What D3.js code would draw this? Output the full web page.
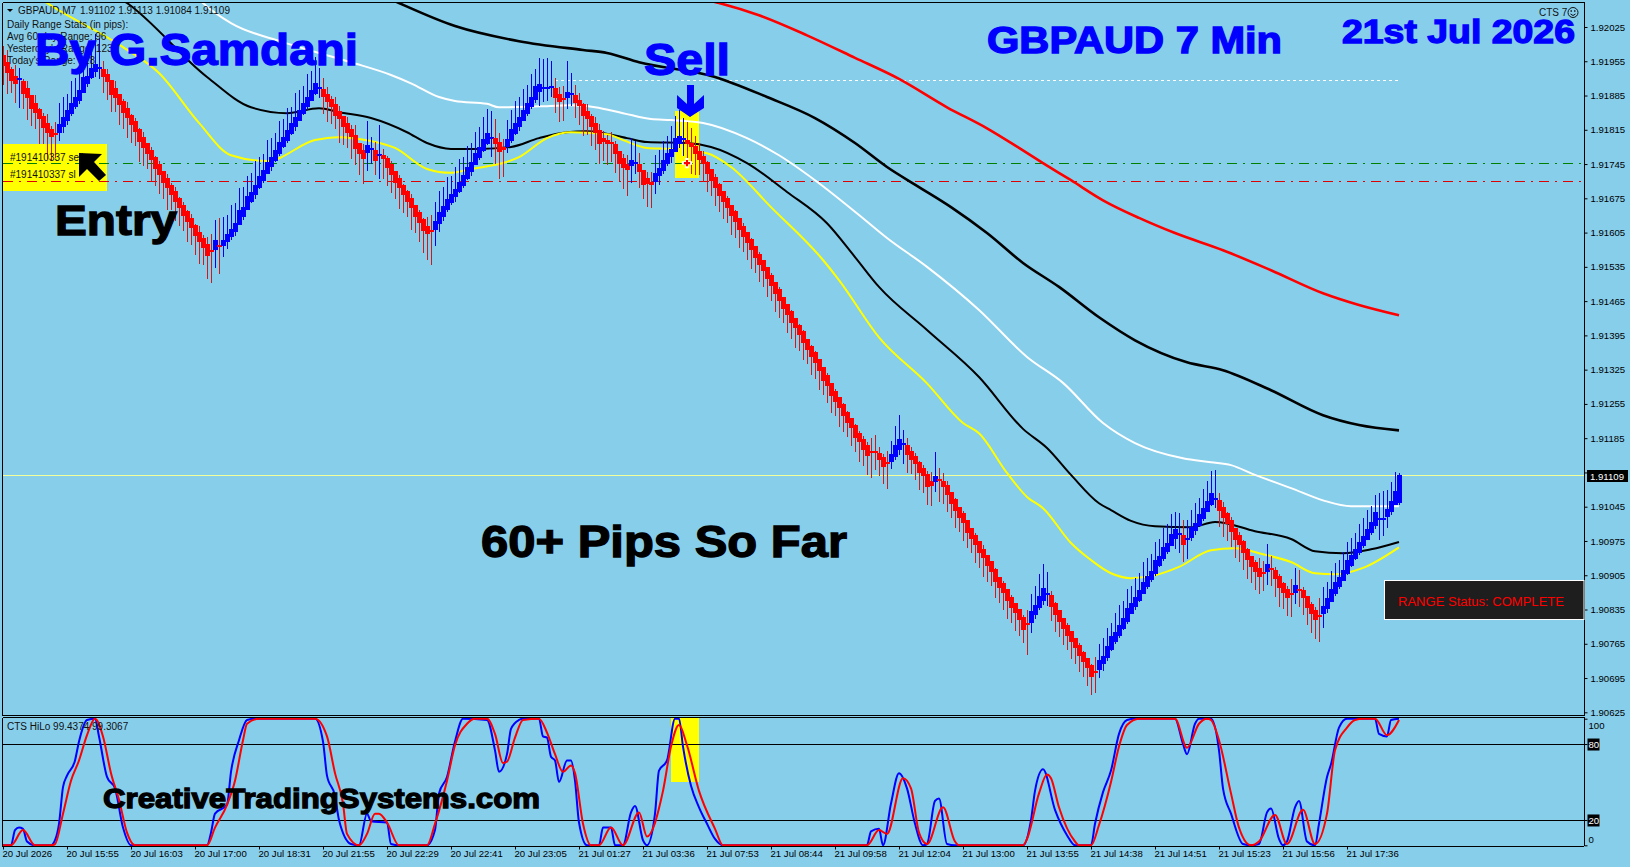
<!DOCTYPE html>
<html>
<head>
<meta charset="utf-8">
<title>GBPAUD 7 Min</title>
<script src="https://cdn.jsdelivr.net/npm/d3@7"></script>
<style>
	html, body { margin:0; padding:0; background:#87ceeb; overflow:hidden; }
	svg { display:block; }
	text { font-family:"Liberation Sans", Arial, sans-serif; }
	.small { font-size:10px; fill:#111; }
	.axis text { font-size:10px; fill:#000; }
	.axis path, .axis line { stroke:#000; }
</style>
</head>
<body>
<div id="chart"></div>
<script>
'use strict';

// prices are kept in points above 1.90000
const priceBase = 1.9;

// middle of each candle body, one per bar
const mids = [
	1957,1943,1927,1917,1919,1902,1890,1872,1859,1847,
	1831,1818,1808,1807,1818,1831,1845,1859,1872,1886,
	1906,1917,1931,1941,1942,1931,1921,1902,1890,1876,
	1861,1849,1835,1821,1804,1790,1776,1763,1747,1733,
	1718,1706,1692,1678,1665,1651,1637,1624,1610,1596,
	1584,1569,1568,1580,1577,1584,1594,1604,1616,1635,
	1647,1665,1678,1692,1708,1722,1737,1749,1763,1778,
	1790,1804,1818,1831,1845,1859,1872,1886,1900,1901,
	1890,1880,1870,1855,1845,1831,1818,1808,1790,1776,
	1765,1776,1777,1763,1764,1759,1747,1733,1718,1706,
	1692,1678,1665,1649,1635,1620,1610,1609,1620,1635,
	1649,1663,1675,1686,1698,1712,1727,1739,1755,1769,
	1784,1798,1799,1792,1780,1777,1788,1804,1818,1831,
	1845,1859,1872,1890,1900,1901,1902,1903,1890,1880,
	1878,1886,1888,1878,1870,1855,1845,1831,1818,1800,
	1794,1790,1788,1776,1759,1747,1739,1747,1748,1737,
	1718,1710,1706,1718,1729,1743,1757,1767,1784,1794,
	1796,1790,1784,1774,1763,1753,1737,1722,1708,1692,
	1678,1665,1651,1637,1622,1608,1594,1580,1565,1551,
	1537,1522,1508,1492,1477,1461,1447,1432,1420,1406,
	1391,1377,1363,1349,1334,1316,1302,1285,1271,1257,
	1242,1228,1216,1199,1187,1173,1159,1158,1157,1148,
	1136,1134,1144,1159,1173,1174,1161,1150,1140,1126,
	1116,1099,1093,1101,1099,1091,1079,1063,1048,1034,
	1022,1005,991,977,962,950,936,922,905,891,
	879,864,850,838,824,807,805,820,834,850,
	866,867,852,836,821,807,793,779,766,752,
	738,725,709,708,721,732,748,766,779,793,
	807,824,838,850,864,879,893,905,922,934,
	950,962,977,989,990,977,979,993,1003,1018,
	1032,1046,1061,1062,1048,1034,1020,1005,989,977,
	962,948,934,922,911,909,920,918,907,891,
	879,868,867,877,876,866,850,836,824,823,
	834,848,864,879,891,905,922,936,948,962,
	975,989,1003,1020,1021,1022,1032,1046,1063,1079
];

// high minus body middle, in points
const wickUp = [
	30,36,16,30,22,16,24,14,28,12,
	18,30,14,24,52,50,44,56,48,60,
	54,58,66,70,60,24,18,14,24,12,
	16,22,12,18,14,20,12,16,14,18,
	12,18,14,20,12,16,14,18,12,22,
	16,28,34,50,58,52,46,58,50,62,
	52,56,48,60,52,44,58,50,46,54,
	48,56,44,60,52,46,58,50,64,40,
	30,22,14,28,18,12,24,16,34,12,
	20,56,24,28,60,16,14,18,12,16,
	12,14,18,12,16,14,26,32,48,54,
	50,56,46,52,58,48,54,50,56,52,
	58,60,54,46,28,20,48,52,56,50,
	54,48,56,50,62,58,60,52,30,22,
	26,70,44,28,20,14,22,16,24,26,
	18,14,22,16,12,18,24,52,44,30,
	14,18,22,46,44,50,46,56,60,62,
	44,40,34,28,26,18,14,12,16,14,
	12,14,10,14,12,16,10,14,12,14,
	12,10,14,12,16,10,12,14,10,12,
	14,10,12,14,12,10,16,12,14,10,
	14,12,10,14,12,16,18,28,34,20,
	16,24,36,50,60,28,24,16,14,12,
	14,18,22,56,26,22,18,12,14,10,
	14,12,10,14,12,16,10,12,14,10,
	14,12,14,10,12,16,28,46,50,58,
	62,44,20,14,12,10,14,12,10,14,
	12,10,14,30,44,44,50,42,48,52,
	46,52,44,50,46,54,48,44,50,46,
	52,48,54,46,42,40,38,46,50,44,
	50,52,56,58,26,20,14,18,12,16,
	14,12,10,14,30,26,48,26,14,16,
	12,14,30,42,40,14,12,14,16,36,
	46,44,50,52,46,48,50,46,44,48,
	46,50,44,48,52,56,48,50,52,35
];

// body middle minus low, in points
const wickDn = [
	50,54,36,48,60,44,56,50,42,60,
	46,62,54,50,26,22,20,16,14,18,
	16,14,12,18,24,40,46,50,38,52,
	44,50,46,40,54,48,42,52,46,50,
	44,54,40,50,46,42,52,44,50,56,
	46,58,66,48,56,28,22,14,18,12,
	16,14,12,18,14,16,12,18,14,16,
	12,16,14,18,12,14,16,12,14,22,
	42,50,44,38,56,48,40,52,46,54,
	60,46,32,40,50,44,46,48,44,52,
	46,42,54,44,50,56,60,70,42,28,
	20,16,14,18,12,16,14,18,12,16,
	14,14,40,46,66,58,20,16,14,18,
	12,16,14,20,36,30,28,20,40,50,
	46,28,24,38,46,52,40,50,44,54,
	42,46,38,50,48,52,60,40,24,40,
	44,52,50,34,26,18,16,20,14,16,
	34,46,60,52,40,44,50,42,48,44,
	46,40,50,44,48,42,46,50,42,46,
	44,48,42,50,46,40,48,44,50,42,
	46,40,48,44,50,42,46,48,40,50,
	44,40,46,42,50,44,50,54,38,40,
	44,52,22,18,22,42,48,38,40,46,
	42,50,46,26,44,40,44,42,46,40,
	48,44,40,46,42,48,44,40,46,42,
	44,48,42,46,44,40,62,34,18,16,
	22,24,40,46,42,44,40,46,42,44,
	40,46,48,44,26,22,18,16,14,16,
	14,18,12,16,14,12,16,14,18,12,
	16,14,12,30,40,44,40,18,16,14,
	16,12,14,20,44,50,46,42,48,44,
	46,50,44,48,44,36,34,36,46,50,
	42,46,48,30,36,42,46,48,50,54,
	36,20,14,16,14,12,16,14,12,16,
	14,12,16,20,44,36,30,18,14,30
];

// the bar still open has its own open and the last price as close
const lastOpen = 1052;
const lastPrice = 1109;

// moving averages, [bar, points]
const maRed = [[175,2082],[179,2074],[189,2049],[201,2008],[213,1962],[224,1919],[236,1861],[246,1818],[254,1778],[260,1747],[267,1712],[275,1671],[284,1635],[293,1604],[305,1569],[317,1528],[330,1481],[339,1457],[349,1436]];
const maBlackSlow = [[96,2085],[99,2074],[113,2027],[129,1996],[145,1978],[151,1972],[159,1953],[178,1923],[191,1882],[203,1839],[213,1788],[221,1739],[229,1698],[237,1657],[246,1604],[255,1543],[264,1494],[274,1432],[283,1385],[296,1340],[305,1324],[317,1283],[330,1232],[339,1212],[349,1201]];
const maWhite = [[49,2082],[50,2074],[57,2033],[70,1994],[87,1953],[97,1927],[102,1910],[109,1882],[113,1874],[121,1868],[124,1861],[134,1863],[142,1865],[148,1861],[155,1849],[162,1837],[167,1835],[175,1829],[186,1798],[194,1763],[203,1712],[214,1641],[221,1594],[231,1535],[244,1447],[256,1351],[265,1298],[275,1216],[283,1175],[295,1144],[302,1136],[307,1130],[313,1110],[322,1083],[330,1058],[337,1046],[349,1046]];
const maBlackFast = [[29,2085],[31,2074],[51,1923],[62,1861],[71,1849],[79,1859],[84,1851],[92,1839],[101,1810],[106,1788],[112,1776],[119,1776],[127,1780],[134,1798],[141,1810],[146,1812],[156,1798],[161,1790],[171,1788],[177,1780],[186,1747],[196,1688],[206,1624],[213,1555],[219,1494],[231,1406],[244,1310],[255,1204],[261,1165],[267,1110],[274,1052],[277,1038],[282,1016],[288,1005],[297,1003],[303,1014],[313,995],[322,979],[328,954],[335,950],[342,958],[349,973]];
const maYellow = [[9,2085],[11,2074],[30,1984],[39,1931],[49,1829],[57,1763],[66,1751],[78,1794],[84,1800],[92,1792],[98,1778],[106,1735],[112,1727],[117,1735],[125,1747],[129,1759],[136,1798],[142,1810],[151,1806],[155,1794],[161,1778],[167,1776],[176,1767],[182,1739],[192,1657],[205,1549],[209,1508],[219,1391],[231,1297],[240,1216],[244,1195],[251,1114],[256,1065],[260,1042],[267,971],[272,936],[277,909],[282,899],[288,905],[294,922],[302,956],[308,960],[315,948],[322,932],[328,909],[333,907],[340,920],[349,962]];

// CTS HiLo lines, [bar, value]
const hiloBlue = [[0,0],[2,0],[3,12],[4,14],[5,13],[6,3],[8,0],[12,0],[13,4],[14,17],[15,46],[16,55],[18,67],[19,82],[21,99],[23,100],[24,86],[26,54],[28,45],[30,14],[32,0],[51,0],[52,10],[53,25],[56,32],[57,58],[59,83],[61,99],[63,100],[78,100],[80,82],[81,55],[83,39],[84,20],[87,1],[89,0],[91,25],[92,19],[96,18],[97,1],[99,0],[106,0],[108,12],[109,41],[111,54],[113,82],[115,100],[121,99],[123,75],[124,58],[126,72],[127,92],[129,99],[130,100],[134,100],[135,86],[136,85],[137,70],[138,67],[139,50],[141,67],[142,67],[143,51],[144,18],[146,0],[149,0],[150,14],[152,14],[153,0],[155,0],[157,26],[158,31],[160,4],[161,0],[163,25],[164,59],[166,67],[168,100],[169,100],[170,78],[172,47],[174,30],[176,17],[178,5],[180,0],[216,0],[217,11],[219,13],[220,0],[222,33],[224,57],[226,45],[228,17],[230,0],[231,1],[233,35],[234,37],[236,1],[238,0],[255,0],[257,20],[258,43],[260,60],[263,28],[266,8],[268,0],[272,0],[273,17],[275,42],[277,59],[279,88],[281,99],[283,100],[293,100],[295,80],[296,72],[298,96],[299,100],[302,100],[304,75],[305,45],[307,25],[310,1],[312,0],[314,1],[316,26],[317,29],[319,5],[320,0],[321,3],[323,30],[324,35],[326,3],[328,0],[329,17],[331,54],[332,64],[334,93],[336,100],[343,100],[344,88],[346,86],[347,99],[349,100]];
const hiloRed = [[0,0],[2,0],[5,12],[8,0],[12,0],[13,1],[15,25],[17,51],[19,67],[21,87],[23,100],[25,86],[27,57],[29,36],[31,10],[33,0],[51,0],[53,14],[56,32],[58,51],[60,83],[61,96],[64,100],[78,100],[81,86],[83,57],[85,33],[86,9],[89,0],[91,9],[93,25],[94,25],[96,18],[99,0],[106,0],[108,17],[111,51],[113,79],[116,96],[118,100],[121,100],[123,88],[125,65],[126,66],[128,85],[130,99],[134,100],[136,89],[138,72],[140,58],[142,63],[143,57],[145,17],[147,0],[149,0],[152,14],[155,0],[159,26],[161,7],[165,43],[167,78],[169,95],[171,79],[174,43],[178,13],[180,0],[216,0],[219,12],[221,9],[225,53],[227,45],[229,10],[231,1],[235,30],[238,3],[239,0],[255,0],[256,5],[259,41],[261,56],[262,53],[264,30],[268,3],[269,0],[272,0],[274,16],[277,50],[279,78],[281,95],[284,100],[293,100],[296,77],[299,96],[301,100],[302,99],[304,83],[307,41],[309,14],[312,0],[314,3],[318,24],[321,1],[325,28],[328,1],[331,25],[333,75],[336,93],[338,99],[340,100],[343,100],[346,87],[349,99]];

const priceTicks = [2025,1955,1885,1815,1745,1675,1605,1535,1465,1395,1325,1255,1185,1115,1045,975,905,835,765,695,625];
const hiloTicks = [0,20,80,100];
const timeLabels = ["20 Jul 2026","20 Jul 15:55","20 Jul 16:03","20 Jul 17:00","20 Jul 18:31","20 Jul 21:55","20 Jul 22:29","20 Jul 22:41","20 Jul 23:05","21 Jul 01:27","21 Jul 03:36","21 Jul 07:53","21 Jul 08:44","21 Jul 09:58","21 Jul 12:04","21 Jul 13:00","21 Jul 13:55","21 Jul 14:38","21 Jul 14:51","21 Jul 15:23","21 Jul 15:56","21 Jul 17:36"];
const infoLines = ["Daily Range Stats (in pips):","Avg 60-day Range: 96","Yesterday's Range: 123","Today's Range: 128"];

// order levels, points
const sellLevel = 1747;
const stopLevel = 1711;
const highLevel = 1917;

const W = 1630, H = 867;
const axisX = 1584;

const svg = d3.select("#chart").append("svg").attr("width", W).attr("height", H);

const x = d3.scaleLinear().domain([0, mids.length - 1]).range([3, 1399]);
const y = d3.scaleLinear().domain([625, 2025]).range([712.3, 27]);
const ySub = d3.scaleLinear().domain([0, 100]).range([845.3, 718.7]);

const defs = svg.append("defs");
defs.append("clipPath").attr("id", "clipMain").append("rect").attr("x", 3).attr("y", 3).attr("width", axisX - 3).attr("height", 712);
defs.append("clipPath").attr("id", "clipSub").append("rect").attr("x", 3).attr("y", 717).attr("width", axisX - 3).attr("height", 129);

const main = svg.append("g").attr("clip-path", "url(#clipMain)");
const sub = svg.append("g").attr("clip-path", "url(#clipSub)");

// yellow marks sit under everything else
main.append("rect").attr("x", 3).attr("y", 144).attr("width", 104).attr("height", 47).attr("fill", "#ffff00");
main.append("rect").attr("x", 675).attr("y", 111).attr("width", 24).attr("height", 67).attr("fill", "#ffff00");

function level(p, color, dash, width) {
	main.append("line")
		.attr("x1", 3).attr("x2", axisX)
		.attr("y1", Math.round(y(p)) + 0.5).attr("y2", Math.round(y(p)) + 0.5)
		.attr("stroke", color)
		.attr("stroke-dasharray", dash)
		.attr("shape-rendering", "crispEdges");
}
level(sellLevel, "#008000", "10 6 2 6");
level(stopLevel, "#e00000", "10 6 2 6");
level(lastPrice, "#f2ff9a", null);
main.append("line")
	.attr("x1", x(138)).attr("x2", x(349))
	.attr("y1", Math.round(y(highLevel)) + 0.5).attr("y2", Math.round(y(highLevel)) + 0.5)
	.attr("stroke", "#fff").attr("stroke-dasharray", "3 3");

const maLine = d3.line().x(d => x(d[0])).y(d => y(d[1])).curve(d3.curveMonotoneX);
function drawMa(data, color, width) {
	main.append("path").attr("d", maLine(data))
		.attr("fill", "none").attr("stroke", color).attr("stroke-width", width);
}
drawMa(maRed, "#ff0000", 2.6);
drawMa(maBlackSlow, "#000", 2.6);
drawMa(maWhite, "#fff", 2);
drawMa(maBlackFast, "#000", 2);
drawMa(maYellow, "#ffff00", 2);

// candles: the step between body middles sets the body height
const bars = mids.map((m, i) => {
	const prev = i > 0 ? mids[i - 1] : m + 14;
	const half = (m - prev) * 0.8;
	let open = m - half, close = m + half;
	if (i == mids.length - 1) { open = lastOpen; close = lastPrice; }
	return { i, open, close, high: m + wickUp[i], low: m - wickDn[i], up: m >= prev };
});

const candles = main.append("g").selectAll("g").data(bars).join("g");
candles.append("line")
	.attr("x1", d => x(d.i) + 0.5).attr("x2", d => x(d.i) + 0.5)
	.attr("y1", d => y(d.high)).attr("y2", d => y(d.low))
	.attr("stroke", d => d.up ? "#0000ee" : "#d01818")
	.attr("shape-rendering", "crispEdges");
candles.append("rect")
	.attr("x", d => x(d.i) - 2)
	.attr("width", 5)
	.attr("y", d => Math.min(y(d.open), y(d.close)))
	.attr("height", d => Math.max(2, Math.abs(y(d.open) - y(d.close))))
	.attr("fill", d => d.up ? "#0000ff" : "#ff0000")
	.attr("shape-rendering", "crispEdges");

// entry marker
main.append("path").attr("d", d3.symbol(d3.symbolCross, 60)())
	.attr("transform", `translate(${x(171)},${y(sellLevel)})`).attr("fill", "#fff");
main.append("path").attr("d", d3.symbol(d3.symbolCross, 22)())
	.attr("transform", `translate(${x(171)},${y(sellLevel)})`).attr("fill", "#ff0000");

// sub window
sub.append("rect").attr("x", 671).attr("y", 717).attr("width", 28).attr("height", 65).attr("fill", "#ffff00");
[20, 80].forEach(v => {
	sub.append("line").attr("x1", 3).attr("x2", axisX)
		.attr("y1", Math.round(ySub(v)) + 0.5).attr("y2", Math.round(ySub(v)) + 0.5)
		.attr("stroke", "#000");
});
const hiloLine = d3.line().x(d => x(d[0])).y(d => ySub(d[1])).curve(d3.curveMonotoneX);
sub.append("path").attr("d", hiloLine(hiloBlue)).attr("fill", "none").attr("stroke", "#0000ff").attr("stroke-width", 2);
sub.append("path").attr("d", hiloLine(hiloRed)).attr("fill", "none").attr("stroke", "#ff0000").attr("stroke-width", 2);

// frame
function frameLine(x1, y1, x2, y2) {
	svg.append("line").attr("x1", x1).attr("y1", y1).attr("x2", x2).attr("y2", y2)
		.attr("stroke", "#000").attr("shape-rendering", "crispEdges");
}
frameLine(2.5, 2.5, axisX + 0.5, 2.5);
frameLine(2.5, 2.5, 2.5, 715.5);
frameLine(2.5, 715.5, axisX + 0.5, 715.5);
frameLine(2.5, 717.5, axisX + 0.5, 717.5);
frameLine(2.5, 717.5, 2.5, 846.5);

// axes
const priceAxis = svg.append("g").attr("class", "axis")
	.attr("transform", `translate(${axisX + 0.5},0)`)
	.call(d3.axisRight(y).tickValues(priceTicks).tickSize(3).tickPadding(3).tickSizeOuter(0)
		.tickFormat(p => (priceBase + p / 1e5).toFixed(5)));
priceAxis.select(".domain").attr("d", "M0,2V716");
priceAxis.selectAll("text").style("font-size", "9.6px");

const hiloAxis = svg.append("g").attr("class", "axis")
	.attr("transform", `translate(${axisX + 0.5},0)`)
	.call(d3.axisRight(ySub).tickValues(hiloTicks).tickSize(3).tickPadding(1).tickSizeOuter(0));
hiloAxis.select(".domain").attr("d", "M0,717V846");
hiloAxis.selectAll(".tick text")
	.style("font-size", "9.6px")
	.attr("dy", d => d == 100 ? "1.05em" : d == 0 ? "-0.25em" : "0.35em")
	.attr("fill", d => (d == 20 || d == 80) ? "#fff" : "#000")
	.style("fill", d => (d == 20 || d == 80) ? "#fff" : "#000");
hiloAxis.selectAll(".tick").filter(d => d == 20 || d == 80)
	.insert("rect", "text").attr("x", 3).attr("y", -6).attr("width", 12).attr("height", 12).attr("fill", "#000");

const timeAxis = svg.append("g").attr("class", "axis")
	.attr("transform", "translate(0,846.5)")
	.call(d3.axisBottom(x).tickValues(timeLabels.map((d, i) => i * 16)).tickSize(3).tickPadding(1).tickSizeOuter(0)
		.tickFormat((d, i) => timeLabels[i]));
timeAxis.select(".domain").attr("d", `M2,0H${axisX}`);
timeAxis.selectAll("text").attr("text-anchor", "start").attr("x", -1).style("font-size", "9.6px");
timeAxis.selectAll(".tick").attr("transform", d => `translate(${x(d) + 0.5},0)`);

// last price tag
svg.append("rect").attr("x", axisX + 3).attr("y", Math.round(y(lastPrice)) - 5).attr("width", 41).attr("height", 12).attr("fill", "#000");
svg.append("text").attr("x", axisX + 6).attr("y", y(lastPrice) + 4.5)
	.style("font-size", "9.6px").attr("fill", "#fff").text((priceBase + lastPrice / 1e5).toFixed(5));

// small labels
svg.append("path").attr("d", "M7,9H13L10,12Z").attr("fill", "#000");
svg.append("text").attr("class", "small").attr("x", 18).attr("y", 14).text("GBPAUD,M7");
svg.append("text").attr("class", "small").attr("x", 80).attr("y", 14).text("1.91102 1.91113 1.91084 1.91109");
svg.selectAll(".info").data(infoLines).join("text")
	.attr("class", "small info").attr("x", 7).attr("y", (d, i) => 28 + i * 12).text(d => d);
svg.append("text").attr("class", "small").attr("x", 7).attr("y", 730).text("CTS HiLo 99.4374 99.3067");
svg.append("text").attr("class", "small").attr("x", 10).attr("y", 161).text("#191410337 sell");
svg.append("text").attr("class", "small").attr("x", 10).attr("y", 178).text("#191410337 sl");

svg.append("text").attr("class", "small").attr("x", 1539).attr("y", 16).text("CTS 7");
const smiley = svg.append("g").attr("transform", "translate(1573,12.5)").attr("fill", "none").attr("stroke", "#111");
smiley.append("circle").attr("r", 5);
smiley.append("path").attr("d", "M-2.5,1.5Q0,4.5 2.5,1.5");
smiley.append("circle").attr("cx", -1.8).attr("cy", -1.5).attr("r", 0.5);
smiley.append("circle").attr("cx", 1.8).attr("cy", -1.5).attr("r", 0.5);

// arrows
svg.append("path").attr("d", "M79,153L102,154L94,162L106,175L99,181L87,169L79,177Z").attr("fill", "#000");
svg.append("path").attr("d", "M687,85H694V104L704,95V108L690,117L677,108V95L687,104Z").attr("fill", "#0000ff");

// status box
svg.append("rect").attr("x", 1384.5).attr("y", 580.5).attr("width", axisX - 1384.5).attr("height", 39)
	.attr("fill", "#1e1e1e").attr("stroke", "#fff");
svg.append("text").attr("x", 1398).attr("y", 606)
	.attr("textLength", 166).attr("lengthAdjust", "spacingAndGlyphs")
	.style("font-size", "13px").attr("fill", "#ff0000").text("RANGE Status: COMPLETE");

// big captions
function caption(txt, x0, base, size, color, len) {
	svg.append("text").attr("x", x0).attr("y", base)
		.attr("textLength", len).attr("lengthAdjust", "spacingAndGlyphs")
		.style("font-size", size + "px").style("font-weight", "bold")
		.attr("fill", color).attr("stroke", color).attr("stroke-width", 1.3)
		.text(txt);
}
caption("By G.Samdani", 35, 65, 45, "#0000ff", 323);
caption("Sell", 644, 75, 45, "#0000ff", 86);
caption("GBPAUD 7 Min", 987, 53, 36, "#0000ff", 295);
caption("21st Jul 2026", 1342, 43, 33, "#0000ff", 233);
caption("Entry", 55, 235, 43, "#000", 122);
caption("60+ Pips So Far", 481, 557, 44, "#000", 366);
caption("CreativeTradingSystems.com", 103, 808, 28, "#000", 437);
</script>
</body>
</html>
